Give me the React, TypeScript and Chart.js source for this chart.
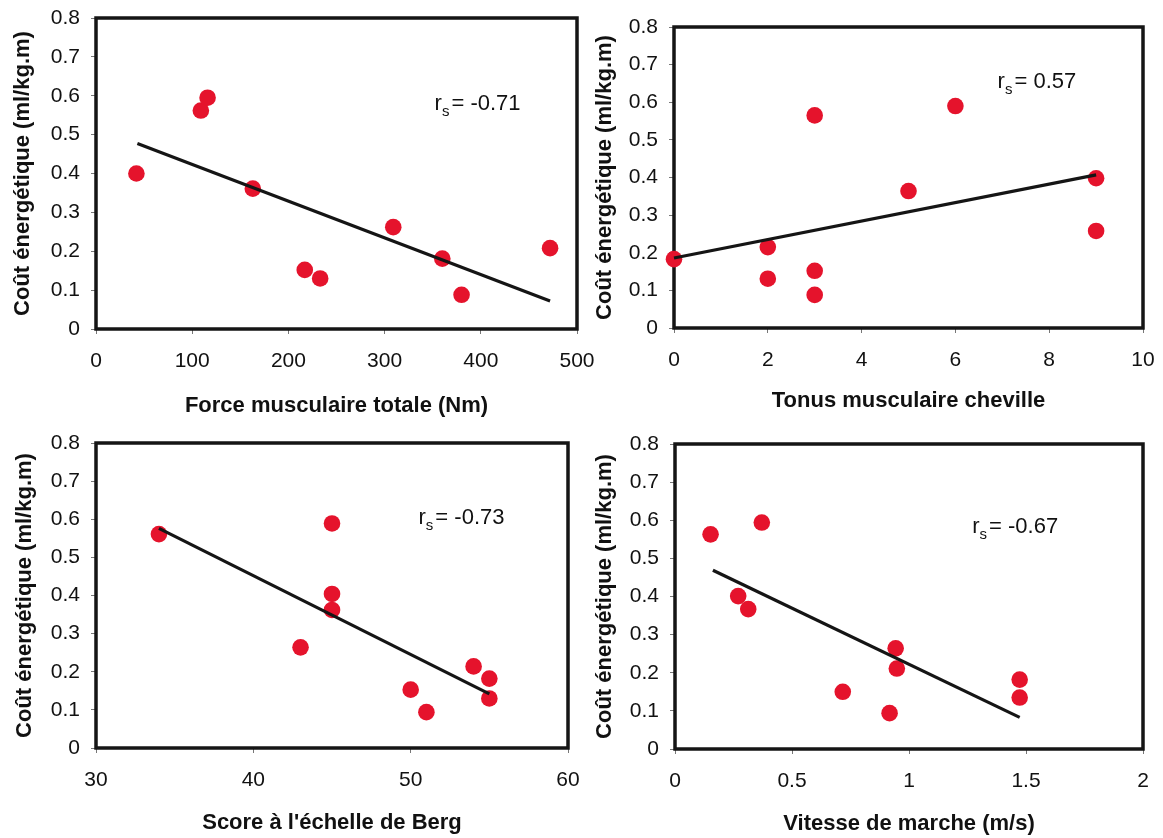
import React, { useEffect, useRef } from "react";
import { Chart, registerables } from "chart.js";

Chart.register(...registerables);

// ---------- shared ----------
const yTickValues = [0, 0.1, 0.2, 0.3, 0.4, 0.5, 0.6, 0.7, 0.8];
const yTitle = "Coût énergétique (ml/kg.m)";

// ---------- Panel 1 : Force musculaire totale ----------
const forceX = [42, 109, 116, 163, 217, 233, 309, 360, 380, 472];
const forceY = [0.4, 0.562, 0.595, 0.361, 0.152, 0.13, 0.262, 0.181, 0.088, 0.208];
const forceTrendX = [43, 472];
const forceTrendY = [0.477, 0.072];
const forceTicks = [0, 100, 200, 300, 400, 500];
const forceLabel = "Force musculaire totale (Nm)";
const forceRs = "-0.71";

// ---------- Panel 2 : Tonus musculaire cheville ----------
const tonusX = [0, 2, 2, 3, 3, 3, 5, 6, 9, 9];
const tonusY = [0.183, 0.215, 0.131, 0.565, 0.152, 0.088, 0.364, 0.59, 0.398, 0.258];
const tonusTrendX = [0, 9];
const tonusTrendY = [0.186, 0.407];
const tonusTicks = [0, 2, 4, 6, 8, 10];
const tonusLabel = "Tonus musculaire cheville";
const tonusRs = "0.57";

// ---------- Panel 3 : Score à l'échelle de Berg ----------
const bergX = [34, 45, 45, 45, 43, 54, 55, 55, 50, 51];
const bergY = [0.561, 0.589, 0.404, 0.362, 0.264, 0.214, 0.182, 0.13, 0.153, 0.094];
const bergTrendX = [34, 55];
const bergTrendY = [0.576, 0.142];
const bergTicks = [30, 40, 50, 60];
const bergLabel = "Score à l'échelle de Berg";
const bergRs = "-0.73";

// ---------- Panel 4 : Vitesse de marche ----------
const vitesseX = [0.152, 0.371, 0.27, 0.313, 0.943, 0.948, 0.717, 0.917, 1.473, 1.473];
const vitesseY = [0.563, 0.594, 0.401, 0.367, 0.264, 0.211, 0.15, 0.094, 0.182, 0.135];
const vitesseTrendX = [0.162, 1.473];
const vitesseTrendY = [0.469, 0.083];
const vitesseTicks = [0, 0.5, 1, 1.5, 2];
const vitesseLabel = "Vitesse de marche (m/s)";
const vitesseRs = "-0.67";

const FONT = "'Liberation Sans', Arial, Helvetica, sans-serif";
const RED = "#E5132C";

type PanelProps = {
  box: { left: number; top: number; width: number; height: number };
  area: { l: number; r: number; t: number; b: number };
  xs: number[];
  ys: number[];
  tx: number[];
  ty: number[];
  xTicks: number[];
  xLabel: string;
  rs: string;
  rsPos: [number, number];
  yTitlePad: number;
  xTitlePad: number;
};

const framePlugin = {
  id: "frameBox",
  beforeDatasetsDraw(chart: any) {
    const { ctx, chartArea: a } = chart;
    ctx.save();
    ctx.lineWidth = 3.5;
    ctx.strokeStyle = "#151515";
    ctx.strokeRect(a.left, a.top, a.right - a.left, a.bottom - a.top);
    ctx.restore();
  },
};

const rsPlugin = {
  id: "rsText",
  afterDraw(chart: any, _args: any, opts: any) {
    if (!opts || !opts.text) return;
    const { ctx } = chart;
    const x = chart.scales.x.getPixelForValue(opts.x);
    const y = chart.scales.y.getPixelForValue(opts.y);
    ctx.save();
    ctx.fillStyle = "#111";
    ctx.textBaseline = "middle";
    ctx.textAlign = "left";
    ctx.font = `22px ${FONT}`;
    ctx.fillText("r", x, y);
    const rw = ctx.measureText("r").width;
    ctx.font = `15px ${FONT}`;
    ctx.fillText("s", x + rw, y + 8);
    const sw = ctx.measureText("s").width;
    ctx.font = `22px ${FONT}`;
    ctx.fillText("= " + opts.text, x + rw + sw + 2, y);
    ctx.restore();
  },
};

function Panel(p: PanelProps) {
  const ref = useRef<HTMLCanvasElement | null>(null);
  useEffect(() => {
    if (!ref.current) return;
    const W = p.box.width;
    const H = p.box.height;
    const pts = p.xs.map((x, i) => ({ x, y: p.ys[i] }));
    const trend = p.tx.map((x, i) => ({ x, y: p.ty[i] }));
    const xMin = p.xTicks[0];
    const xMax = p.xTicks[p.xTicks.length - 1];
    const chart = new Chart(ref.current, {
      type: "scatter",
      data: {
        datasets: [
          {
            type: "line",
            data: trend,
            borderColor: "#151515",
            borderWidth: 3.2,
            pointRadius: 0,
            fill: false,
            order: 0,
            clip: false,
          } as any,
          {
            data: pts,
            backgroundColor: RED,
            borderColor: RED,
            borderWidth: 0,
            pointRadius: 8.3,
            order: 1,
            clip: false,
          },
        ],
      },
      options: {
        animation: false,
        responsive: false,
        devicePixelRatio: 1,
        layout: {
          padding: { left: 0, top: p.area.t, right: W - p.area.r, bottom: 0 },
        },
        plugins: {
          legend: { display: false },
          tooltip: { enabled: false },
          rsText: { text: p.rs, x: p.rsPos[0], y: p.rsPos[1] },
        } as any,
        scales: {
          x: {
            type: "linear",
            min: xMin,
            max: xMax,
            afterBuildTicks: (s: any) => {
              s.ticks = p.xTicks.map((v) => ({ value: v }));
            },
            afterFit: (s: any) => {
              s.height = H - p.area.b;
              s.paddingLeft = 0;
              s.paddingRight = 0;
            },
            ticks: {
              color: "#111",
              padding: 15,
              maxRotation: 0,
              font: { family: FONT, size: 21 },
              callback: (v: any) => String(v),
            },
            grid: {
              drawOnChartArea: false,
              drawTicks: true,
              tickLength: 5,
              color: "#777",
            },
            border: { display: false },
            title: {
              display: true,
              text: p.xLabel,
              color: "#111",
              font: { family: FONT, size: 22, weight: "bold" },
              padding: { top: 0, bottom: p.xTitlePad },
            },
          },
          y: {
            type: "linear",
            min: 0,
            max: 0.8,
            afterBuildTicks: (s: any) => {
              s.ticks = yTickValues.map((v) => ({ value: v }));
            },
            afterFit: (s: any) => {
              s.width = p.area.l;
              s.paddingTop = 0;
              s.paddingBottom = 0;
            },
            ticks: {
              color: "#111",
              padding: 11,
              font: { family: FONT, size: 21 },
              callback: (v: any) => String(Math.round(Number(v) * 10) / 10),
            },
            grid: {
              drawOnChartArea: false,
              drawTicks: true,
              tickLength: 5,
              color: "#777",
            },
            border: { display: false },
            title: {
              display: true,
              text: yTitle,
              color: "#111",
              font: { family: FONT, size: 22, weight: "bold" },
              padding: { top: p.yTitlePad, bottom: 0 },
            },
          },
        },
      },
      plugins: [framePlugin, rsPlugin],
    });
    return () => chart.destroy();
  }, []);
  return (
    <canvas
      ref={ref}
      width={p.box.width}
      height={p.box.height}
      style={{
        position: "absolute",
        left: p.box.left,
        top: p.box.top,
        width: p.box.width,
        height: p.box.height,
      }}
    />
  );
}

export default function App() {
  return (
    <div
      style={{
        position: "absolute",
        left: 0,
        top: 0,
        width: 1163,
        height: 838,
        background: "#fff",
        overflow: "hidden",
      }}
    >
      <Panel
        box={{ left: 0, top: 0, width: 610, height: 420 }}
        area={{ l: 96, r: 577, t: 18, b: 329 }}
        xs={forceX}
        ys={forceY}
        tx={forceTrendX}
        ty={forceTrendY}
        xTicks={forceTicks}
        xLabel={forceLabel}
        rs={forceRs}
        rsPos={[352, 0.58]}
        yTitlePad={10}
        xTitlePad={1}
      />
      <Panel
        box={{ left: 580, top: 0, width: 583, height: 420 }}
        area={{ l: 94, r: 563, t: 27, b: 328 }}
        xs={tonusX}
        ys={tonusY}
        tx={tonusTrendX}
        ty={tonusTrendY}
        xTicks={tonusTicks}
        xLabel={tonusLabel}
        rs={tonusRs}
        rsPos={[6.9, 0.654]}
        yTitlePad={12}
        xTitlePad={6}
      />
      <Panel
        box={{ left: 0, top: 420, width: 610, height: 418 }}
        area={{ l: 96, r: 568, t: 23, b: 328 }}
        xs={bergX}
        ys={bergY}
        tx={bergTrendX}
        ty={bergTrendY}
        xTicks={bergTicks}
        xLabel={bergLabel}
        rs={bergRs}
        rsPos={[50.5, 0.603]}
        yTitlePad={12}
        xTitlePad={2}
      />
      <Panel
        box={{ left: 580, top: 420, width: 583, height: 418 }}
        area={{ l: 95, r: 563, t: 24, b: 329 }}
        xs={vitesseX}
        ys={vitesseY}
        tx={vitesseTrendX}
        ty={vitesseTrendY}
        xTicks={vitesseTicks}
        xLabel={vitesseLabel}
        rs={vitesseRs}
        rsPos={[1.27, 0.582]}
        yTitlePad={12}
        xTitlePad={1}
      />
    </div>
  );
}
